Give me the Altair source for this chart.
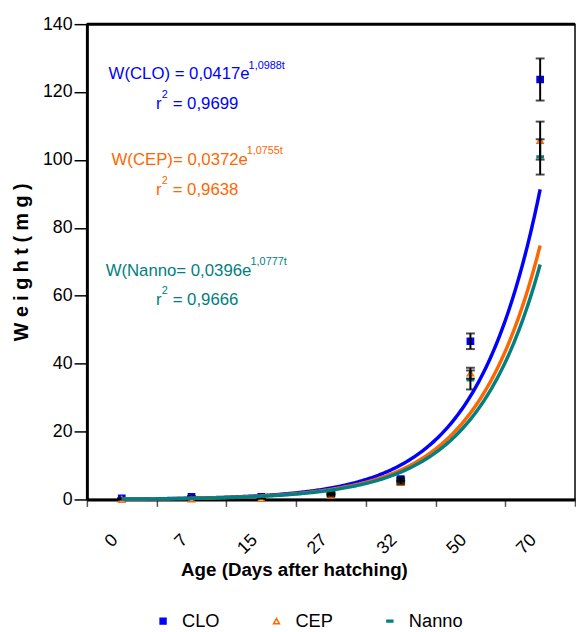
import altair as alt
import pandas as pd

# ---- data ----
days = ["0", "7", "15", "27", "32", "50", "70"]
series_names = ["CLO", "CEP", "Nanno"]
clo_mean = [0.3, 0.8, 0.8, 1.7, 6.0, 46.6, 123.7]
clo_err = [0.1, 0.2, 0.2, 0.3, 0.5, 2.3, 6.2]
cep_mean = [0.05, 0.1, 0.3, 1.2, 5.0, 37.2, 105.7]
cep_err = [0.05, 0.1, 0.1, 0.3, 0.5, 1.6, 5.6]
nanno_mean = [0.15, 0.4, 0.6, 1.8, 5.5, 35.2, 100.9]
nanno_err = [0.05, 0.1, 0.2, 0.3, 0.5, 2.8, 5.2]

# exponential trend lines W = a * e^(b t), t = age index 1..7 (as drawn: blue, orange, teal)
curve_a = [0.0417, 0.0396, 0.0372]
curve_b = [1.0988, 1.0777, 1.0755]

eq_main = ["W(CLO) = 0,0417e", "W(CEP)= 0,0372e", "W(Nanno= 0,0396e"]
eq_exp = ["1,0988t", "1,0755t", "1,0777t"]
eq_r2 = ["= 0,9699", "= 0,9638", "= 0,9666"]

colors = ["#0000FF", "#FF6600", "#008080"]
fills = ["#0000FF", "#FFFFFF", "#008080"]
dash = "M-1,-0.28L1,-0.28L1,0.28L-1,0.28Z"
shapes = ["square", "triangle-up", dash]

FONT = "Liberation Sans, Arial, sans-serif"

rows = []
for name, means, errs in [("CLO", clo_mean, clo_err), ("CEP", cep_mean, cep_err),
                          ("Nanno", nanno_mean, nanno_err)]:
    for d, m, e in zip(days, means, errs):
        rows.append({"day": d, "series": name, "w": m, "lo": m - e, "hi": m + e})
df = pd.DataFrame(rows)
one = pd.DataFrame({"k": [0]})

W, H = 495, 482

xband = alt.X(
    "day:O", sort=days,
    scale=alt.Scale(type="band", paddingInner=0, paddingOuter=0),
    axis=alt.Axis(
        title="Age (Days after hatching)", titleFont=FONT, titleFontSize=19,
        titleFontWeight="bold", titleColor="black",
        titleX=210, titleY=77, titleAlign="center", titleBaseline="alphabetic",
        labelAngle=315, labelAlign="right", labelBaseline="middle",
        labelFont=FONT, labelFontSize=18, labelColor="black",
        labelPadding=31, labelOffset=-7,
        tickBand="extent", tickSize=7, tickColor="#555555", tickWidth=1.5,
        domainColor="black", domainWidth=3, grid=False,
    ),
)
yscale = alt.Scale(domain=[0, 140], nice=False, zero=True)
yaxis = alt.Axis(
    values=list(range(0, 141, 20)), title="W e i g h t  ( m g )",
    titleFont=FONT, titleFontSize=20,
    titleFontWeight="bold", titleColor="black",
    titleX=-66, titleY=H / 2, titleAngle=270, titleAlign="center", titleBaseline="middle",
    labelFont=FONT, labelFontSize=18, labelColor="black", labelPadding=2,
    tickSize=13, tickColor="black", tickWidth=1.5,
    domainColor="black", domainWidth=3, grid=False,
)

base = alt.Chart(df)

bars = base.mark_rule(color="black", strokeWidth=2).encode(
    x=xband, y=alt.Y("lo:Q", scale=yscale, axis=yaxis), y2="hi:Q")
cap_lo = base.mark_tick(color="black", orient="horizontal", size=9, thickness=2).encode(
    x=xband, y=alt.Y("lo:Q", scale=yscale, axis=yaxis))
cap_hi = base.mark_tick(color="black", orient="horizontal", size=9, thickness=2).encode(
    x=xband, y=alt.Y("hi:Q", scale=yscale, axis=yaxis))

points = base.mark_point(filled=True, strokeWidth=1.5, opacity=1, size=40).encode(
    x=xband,
    y=alt.Y("w:Q", scale=yscale, axis=yaxis),
    fill=alt.Fill("series:N", scale=alt.Scale(domain=series_names, range=fills), title=None),
    stroke=alt.Stroke("series:N", scale=alt.Scale(domain=series_names, range=colors), title=None),
    shape=alt.Shape("series:N", scale=alt.Scale(domain=series_names, range=shapes), title=None),
)

data_layer = alt.layer(points, bars, cap_lo, cap_hi)

curves = []
for a, b, c in zip(curve_a, curve_b, colors):
    curves.append(
        alt.Chart(alt.sequence(1, 7.0001, 0.02, as_="t"))
        .transform_calculate(w=f"{a} * exp({b} * datum.t)")
        .mark_line(color=c, strokeWidth=3.5)
        .encode(
            x=alt.X("t:Q", scale=alt.Scale(domain=[0.5, 7.5], nice=False, zero=False), axis=None),
            y=alt.Y("w:Q", scale=yscale, axis=yaxis),
        )
    )

top_rule = alt.Chart(one).mark_rule(color="black", strokeWidth=3).encode(
    y=alt.YDatum(140, scale=yscale, axis=yaxis))


def txt(s, x, y, color, size=17):
    return alt.Chart(one).mark_text(
        text=s, font=FONT, fontSize=size, color=color, align="left", baseline="middle"
    ).encode(x=alt.value(x), y=alt.value(y))


texts = []
ys = [51, 138, 250]
xs_main = [22, 25, 19]
xs_exp = [164, 162, 166]
for i in range(3):
    y0 = ys[i]
    texts.append(txt(eq_main[i], xs_main[i], y0, colors[i]))
    texts.append(txt(eq_exp[i], xs_exp[i], y0 - 9, colors[i], size=11))
    texts.append(txt("r", 70, y0 + 30, colors[i]))
    texts.append(txt("2", 76, y0 + 21, colors[i], size=11))
    texts.append(txt(eq_r2[i], 87, y0 + 30, colors[i]))

chart = alt.layer(
    data_layer, *curves, top_rule, *texts
).resolve_scale(x="independent").properties(
    width=W, height=H,
    autosize=alt.AutoSizeParams(type="none"),
    padding={"left": 80, "top": 12, "right": 1, "bottom": 130},
).configure_view(stroke="black", strokeWidth=1.5).configure_legend(
    orient="none", legendX=68, legendY=596, direction="horizontal",
    labelFont=FONT, labelFontSize=18.5, labelColor="black",
    symbolSize=36, symbolStrokeWidth=1.5, labelOffset=10, columnPadding=48,
)

chart.save("out.html", embed_options={"renderer": "svg", "actions": False})
